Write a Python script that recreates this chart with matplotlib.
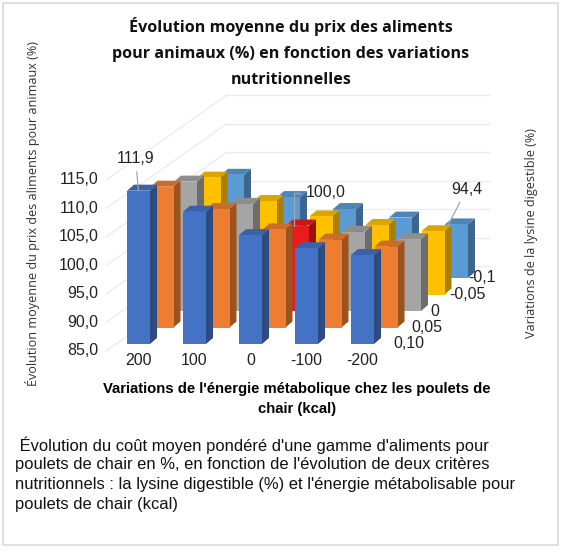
import matplotlib
matplotlib.use("Agg")
import matplotlib.pyplot as plt
from matplotlib.patches import Polygon, Rectangle
import matplotlib.colors as mcolors

# data
energie = ["200", "100", "0", "-100", "-200"]
lysine = ["0,10", "0,05", "0", "-0,05", "-0,1"]
prix_010 = [111.9, 108.2, 104.1, 101.8, 100.6]
prix_005 = [109.7, 105.8, 102.2, 100.4, 99.2]
prix_000 = [107.7, 103.8, 100.0, 98.9, 97.6]
prix_m005 = [105.5, 101.4, 98.7, 97.2, 96.1]
prix_m010 = [103.1, 99.2, 97.1, 95.6, 94.4]
series = [prix_010, prix_005, prix_000, prix_m005, prix_m010]
couleurs = ["#4472C4", "#ED7D31", "#A5A5A5", "#FFC000", "#5B9BD5"]
yticks = [85, 90, 95, 100, 105, 110, 115]

W, H = 565, 552
fig = plt.figure(figsize=(W / 100, H / 100), dpi=100)


def fx(px):
    return px / W


def fy(py):
    return 1 - py / H


# frame around the whole picture
fig.patches.append(Rectangle((fx(3), fy(545)), fx(555), (542) / H, transform=fig.transFigure,
                             fill=False, edgecolor="#d9d9d9", linewidth=1.2))

# axes placed so that 1 x unit = 56 px, 1 y unit = 5.7 px
ax = fig.add_axes([fx(100), fy(370), 400 / W, 280 / H])
ax.set_xlim((100 - 127) / 56, (500 - 127) / 56)
ax.set_ylim(85 - (370 - 344) / 5.7, 85 + (344 - 90) / 5.7)
ax.axis("off")

base = 85
DX, DY = 23.5 / 56, 16.5 / 5.7      # one depth row
w = 23 / 56                         # front width of a bar
sx, sy = 7 / 56, 6 / 5.7            # side / top depth of a bar
x0 = -11 / 56                       # left edge of the floor
x1 = 4.5                            # right edge of the back wall
d_front, d_back = -0.42, 4.72

grid = "#ebebeb"
for v in yticks:
    # back wall
    ax.plot([x0 + d_back * DX, x1 + d_back * DX], [v + d_back * DY] * 2,
            color=grid, lw=0.9, zorder=0)
    # left wall
    ax.plot([x0 + d_front * DX, x0 + d_back * DX], [v + d_front * DY, v + d_back * DY],
            color=grid, lw=0.9, zorder=0)
    ax.text(x0 + d_front * DX - 8 / 56, v + d_front * DY, f"{v:.1f}".replace(".", ","),
            ha="right", va="center", fontsize=11.5, family="Liberation Sans", color="#222222")


def shade(c, f):
    r, g, b = mcolors.to_rgb(c)
    return (r * f, g * f, b * f)


z = 1
anchors = {}
for j in range(len(series) - 1, -1, -1):
    b = base + j * DY
    for i, v in enumerate(series[j]):
        c = couleurs[j]
        if j == 2 and i == 2:
            c = "#E81C1C"
        x = i + j * DX
        t = v + j * DY
        front = [(x, b), (x + w, b), (x + w, t), (x, t)]
        side = [(x + w, b), (x + w + sx, b + sy), (x + w + sx, t + sy), (x + w, t)]
        top = [(x, t), (x + w, t), (x + w + sx, t + sy), (x + sx, t + sy)]
        ax.add_patch(Polygon(side, closed=True, facecolor=shade(c, 0.66), lw=0, zorder=z))
        ax.add_patch(Polygon(top, closed=True, facecolor=shade(c, 0.86), lw=0, zorder=z))
        ax.add_patch(Polygon(front, closed=True, facecolor=c, lw=0, zorder=z))
        anchors[(j, i)] = (x + w / 2, t)
        z += 1
    # depth labels at the right of each row
    ax.text(4 + w + sx + j * DX * 0.8 + 12 / 56, b, lysine[j], ha="left", va="center",
            fontsize=11.5, family="Liberation Sans", color="#222222", zorder=100)

for i, lab in enumerate(energie):
    ax.text(i + w / 2, base + d_front * DY - 0.3, lab, ha="center", va="top",
            fontsize=11.5, family="Liberation Sans", color="#222222")

# data labels with leader lines
lab_kw = dict(fontsize=11.5, family="Liberation Sans", color="#222222",
              textcoords="offset pixels", ha="center", va="center", zorder=200,
              annotation_clip=False)
line_kw = dict(arrowstyle="-", color="#a6a6a6", lw=0.9, shrinkA=2, shrinkB=0)
ax.annotate("111,9", xy=anchors[(0, 0)], xytext=(-3, 32),
            arrowprops=line_kw, **lab_kw)
ax.annotate("100,0", xy=(anchors[(2, 2)][0] - 4 / 56, anchors[(2, 2)][1]), xytext=(32, 33),
            arrowprops=dict(line_kw, connectionstyle="angle,angleA=0,angleB=90,rad=0"), **lab_kw)
ax.annotate("94,4", xy=(anchors[(4, 4)][0] - 8 / 56, anchors[(4, 4)][1]), xytext=(18, 35),
            arrowprops=line_kw, **lab_kw)

# texts around the chart
title = ["Évolution moyenne du prix des aliments",
         "pour animaux (%) en fonction des variations",
         "nutritionnelles"]
for k, line in enumerate(title):
    fig.text(fx(291), fy(27 + 26.5 * k), line, ha="center", va="center",
             fontsize=11.6, fontweight="bold", family="Open Sans", color="#111111")

fig.text(fx(33), fy(213), "Évolution moyenne du prix des aliments pour animaux (%)",
         rotation=90, ha="center", va="center", fontsize=9.1, family="Open Sans", color="#333333")
fig.text(fx(532), fy(233), "Variations de la lysine digestible (%)",
         rotation=90, ha="center", va="center", fontsize=9.1, family="Open Sans", color="#333333")

fig.text(fx(297), fy(389), "Variations de l'énergie métabolique chez les poulets de",
         ha="center", va="center", fontsize=10.7, fontweight="bold", family="Liberation Sans")
fig.text(fx(297), fy(409), "chair (kcal)",
         ha="center", va="center", fontsize=10.7, fontweight="bold", family="Liberation Sans")

caption = [" Évolution du coût moyen pondéré d'une gamme d'aliments pour",
           "poulets de chair en %, en fonction de l'évolution de deux critères",
           "nutritionnels : la lysine digestible (%) et l'énergie métabolisable pour",
           "poulets de chair (kcal)"]
for k, line in enumerate(caption):
    fig.text(fx(15), fy(445 + 20 * k), line, ha="left", va="center",
             fontsize=11.9, family="Liberation Sans", color="#111111")

fig.savefig("out.png", dpi=100)
